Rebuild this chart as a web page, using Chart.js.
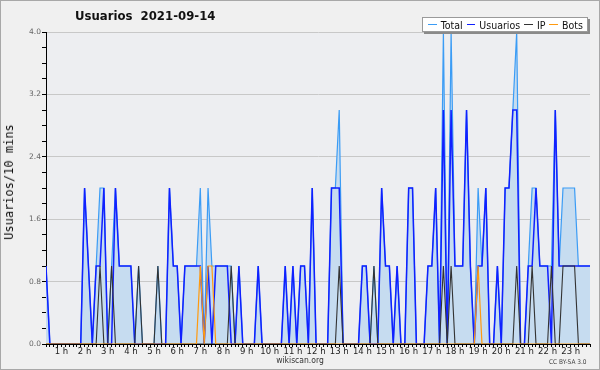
<!DOCTYPE html>
<html>
<head>
<meta charset="utf-8">
<script src="https://cdn.jsdelivr.net/npm/chart.js@4"></script>
<style>
  body { margin: 0; background: #f0f0f0; }
  #wrap { position: relative; width: 600px; height: 370px; overflow: hidden; font-family: 'DejaVu Sans Condensed', 'DejaVu Sans', sans-serif; }
  #wrap canvas { position: absolute; left: 0; top: 0; }
  .frame { position: absolute; left: 0; top: 0; width: 600px; height: 370px; box-sizing: border-box; border: 1px solid #a8a8a8; pointer-events: none; }
  .title { position: absolute; left: 75px; top: 8px; font-weight: bold; font-size: 13px; white-space: pre; color: #111; }
  .ytitle { position: absolute; left: 9px; top: 182px; font-family: 'DejaVu Sans Mono', monospace; font-size: 12px; color: #111;
            transform: translate(-50%, -50%) rotate(-90deg); white-space: nowrap; }
  .legend { position: absolute; left: 422px; top: 17px; width: 166px; height: 15px; background: #fff; border: 1px solid #9a9a9a;
            box-shadow: 2px 2px 0 #8a8a8a; display: flex; align-items: center; font-size: 10.5px; color: #111; box-sizing: border-box; padding-left: 5px; }
  .legend span.sw { display: inline-block; width: 10px; height: 0; border-top: 1px solid; margin: 0 4px 0 0; }
  .legend span.it { margin-right: 4px; }
  .foot { position: absolute; left: 300px; top: 355px; transform: translateX(-50%); font-size: 8.5px; color: #333; }
  .lic { position: absolute; left: 549px; top: 358px; font-size: 6.5px; color: #444; }
</style>
</head>
<body>
<div id="wrap">
  <canvas id="chart" width="600" height="370"></canvas>
  <div class="title">Usuarios  2021-09-14</div>
  <div class="ytitle">Usuarios/10 mins</div>
  <div class="legend">
    <span class="sw" style="border-color:#3b9cf5"></span><span class="it">Total</span>
    <span class="sw" style="border-color:#1020ff"></span><span class="it">Usuarios</span>
    <span class="sw" style="border-color:#333"></span><span class="it">IP</span>
    <span class="sw" style="border-color:#ff9a10"></span><span class="it">Bots</span>
  </div>
  <div class="foot">wikiscan.org</div>
  <div class="lic">CC BY-SA 3.0</div>
  <div class="frame"></div>
</div>
<script>
// one value per 10-minute slot, 00:00 -> 23:30
const total = [
  1,0,0,0,0,0,0,0,0,0,
  2,1,0,1,2,2,0,1,2,1,
  1,1,1,0,1,0,0,0,0,1,
  0,0,2,1,1,0,1,1,1,1,
  2,0,2,1,1,1,1,1,1,0,
  1,0,0,0,0,1,0,0,0,0,
  0,0,1,0,1,0,1,1,0,2,
  0,0,0,0,2,2,3,0,0,0,
  0,0,1,1,0,1,0,2,1,1,
  0,1,0,0,2,2,0,0,0,1,
  1,2,0,4,0,4,1,1,1,3,
  1,0,2,1,2,0,0,1,0,2,
  2,3,4,0,0,1,2,2,1,1,
  1,1,3,1,2,2,2,2,1,1,1,1
];
const usuarios = [
  1,0,0,0,0,0,0,0,0,0,
  2,1,0,1,1,2,0,0,2,1,
  1,1,1,0,0,0,0,0,0,0,
  0,0,2,1,1,0,1,1,1,1,
  1,0,1,0,1,1,1,1,0,0,
  1,0,0,0,0,1,0,0,0,0,
  0,0,1,0,1,0,1,1,0,2,
  0,0,0,0,2,2,2,0,0,0,
  0,0,1,1,0,0,0,2,1,1,
  0,1,0,0,2,2,0,0,0,1,
  1,2,0,3,0,3,1,1,1,3,
  1,0,1,1,2,0,0,1,0,2,
  2,3,3,0,0,1,1,2,1,1,
  1,0,3,1,1,1,1,1,1,1,1,1
];
const ip = [
  0,0,0,0,0,0,0,0,0,0,
  0,0,0,0,1,0,0,1,0,0,
  0,0,0,0,1,0,0,0,0,1,
  0,0,0,0,0,0,0,0,0,0,
  0,0,0,0,0,0,0,0,1,0,
  0,0,0,0,0,0,0,0,0,0,
  0,0,0,0,0,0,0,0,0,0,
  0,0,0,0,0,0,1,0,0,0,
  0,0,0,0,0,1,0,0,0,0,
  0,0,0,0,0,0,0,0,0,0,
  0,0,0,1,0,1,0,0,0,0,
  0,0,0,0,0,0,0,0,0,0,
  0,0,1,0,0,0,1,0,0,0,
  0,1,0,0,1,1,1,1,0,0,0,0
];
const bots = [
  0,0,0,0,0,0,0,0,0,0,
  0,0,0,0,0,0,0,0,0,0,
  0,0,0,0,0,0,0,0,0,0,
  0,0,0,0,0,0,0,0,0,0,
  1,0,1,1,0,0,0,0,0,0,
  0,0,0,0,0,0,0,0,0,0,
  0,0,0,0,0,0,0,0,0,0,
  0,0,0,0,0,0,0,0,0,0,
  0,0,0,0,0,0,0,0,0,0,
  0,0,0,0,0,0,0,0,0,0,
  0,0,0,0,0,0,0,0,0,0,
  0,0,1,0,0,0,0,0,0,0,
  0,0,0,0,0,0,0,0,0,0,
  0,0,0,0,0,0,0,0,0,0,0,0
];
const hourLabels = ['1 h','2 h','3 h','4 h','5 h','6 h','7 h','8 h','9 h','10 h','11 h','12 h',
                    '13 h','14 h','15 h','16 h','17 h','18 h','19 h','20 h','21 h','22 h','23 h'];
const yMax = 4.0;
const yMajor = 0.8;

const pts = arr => arr.map((v, i) => ({ x: i, y: v }));
const lastSlot = total.length - 1;

const plotBg = {
  id: 'plotBg',
  beforeDraw(chart) {
    const { ctx, chartArea: a } = chart;
    ctx.save();
    ctx.fillStyle = '#edeef1';
    ctx.fillRect(a.left, a.top, a.right - a.left, a.bottom - a.top);
    ctx.restore();
  }
};

const isMajor = v => Math.abs(Math.round(v / yMajor) * yMajor - v) < 1e-6;

new Chart(document.getElementById('chart').getContext('2d'), {
  type: 'line',
  data: {
    datasets: [
      { label: 'Total', data: pts(total), borderColor: '#3b9cf5', backgroundColor: '#c6dcf0', fill: 'origin', borderWidth: 1.2, order: 4 },
      { label: 'Usuarios', data: pts(usuarios), borderColor: '#1020ff', borderWidth: 1.5, fill: false, order: 3 },
      { label: 'IP', data: pts(ip), borderColor: '#333333', borderWidth: 1.1, fill: false, order: 2 },
      { label: 'Bots', data: pts(bots), borderColor: '#ff9a10', borderWidth: 1.2, fill: false, order: 1 }
    ]
  },
  options: {
    responsive: false, animation: false, devicePixelRatio: 1,
    elements: { point: { radius: 0 }, line: { tension: 0 } },
    layout: { padding: { top: 32, right: 10, left: 0, bottom: 0 } },
    plugins: { legend: { display: false }, tooltip: { enabled: false }, title: { display: false } },
    scales: {
      x: {
        type: 'linear', min: 0, max: lastSlot,
        afterBuildTicks: s => { s.ticks = total.map((v, i) => ({ value: i })); },
        afterFit: s => { s.height = 26; },
        border: { display: true, color: '#000', width: 1 },
        grid: { drawOnChartArea: false, drawTicks: true, tickLength: 3, tickColor: '#000', tickWidth: 1 },
        ticks: {
          autoSkip: false, maxRotation: 0, minRotation: 0, padding: 0,
          color: '#222', font: { family: 'DejaVu Sans', size: 8.5 },
          callback: v => ((v + 2) % 6 === 0 ? hourLabels[(v + 2) / 6 - 1] || '' : '')
        }
      },
      y: {
        min: 0, max: yMax,
        afterFit: s => { s.width = 46; },
        border: { display: true, color: '#000', width: 1 },
        grid: {
          color: c => (c.tick && isMajor(c.tick.value) ? '#c8c8c8' : 'rgba(0,0,0,0)'),
          tickColor: '#000', tickLength: 4, drawTicks: true
        },
        ticks: {
          stepSize: 0.2, padding: 1, color: '#666', font: { family: 'DejaVu Sans', size: 7.5 },
          callback: v => (isMajor(v) ? v.toFixed(1) : '')
        }
      }
    }
  },
  plugins: [plotBg]
});
</script>
</body>
</html>
